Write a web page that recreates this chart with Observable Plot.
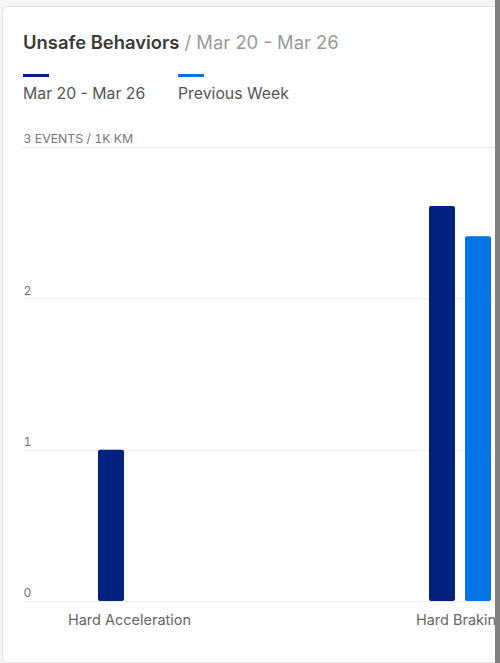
<!DOCTYPE html>
<html>
<head>
<meta charset="utf-8">
<script src="https://cdn.jsdelivr.net/npm/d3@7"></script>
<script src="https://cdn.jsdelivr.net/npm/@observablehq/plot@0.6"></script>
<style>
  html, body { margin: 0; padding: 0; width: 500px; height: 663px; overflow: hidden; background: #f5f5f5; font-family: Inter, "Noto Sans", sans-serif; }
  #card { position: absolute; left: 2px; top: 6px; width: 640px; height: 655px; background: #fff; border: 1px solid #e4e4e4; border-radius: 6px; }
  #title { position: absolute; left: 23px; top: 31px; font-size: 18.4px; line-height: 22px; white-space: nowrap; }
  #title .main { color: #3a3a3a; font-weight: 600; }
  #title .sub { color: #9a9a9a; font-weight: 400; }
  .leg { position: absolute; top: 74px; white-space: nowrap; }
  .leg .sw { width: 26px; height: 3px; }
  .leg .lab { margin-top: 7px; font-size: 15.8px; line-height: 19px; color: #555; }
  #chart { position: absolute; left: 0; top: 130px; width: 600px; }
  #chart svg { max-width: none !important; }
  #scroll { position: absolute; left: 495px; top: 0; width: 5px; height: 663px; background: #808080; }
</style>
</head>
<body>
<div id="card"></div>
<div id="title"><span class="main">Unsafe Behaviors</span><span class="sub"> / Mar 20 - Mar 26</span></div>
<div id="legend"></div>
<div id="chart"></div>
<div id="scroll"></div>
<script>
const categories = ["Hard Acceleration", "Hard Braking"];
const seriesNames = ["Mar 20 - Mar 26", "Previous Week"];
const currentWeek = [1.0, 2.61];
const previousWeek = [0, 2.41];
const yTicks = [0, 1, 2, 3];
const unitLabel = "EVENTS / 1K KM";
const colors = ["#03217e", "#0374e6"];

// legend
const legend = document.getElementById("legend");
const legX = [23, 178];
seriesNames.forEach((name, i) => {
  const d = document.createElement("div");
  d.className = "leg";
  d.style.left = legX[i] + "px";
  d.innerHTML = `<div class="sw" style="background:${colors[i]}"></div><div class="lab">${name}</div>`;
  legend.appendChild(d);
});

const table = categories.map((c, i) => ({category: c, current: currentWeek[i], previous: previousWeek[i]}));

const chart = Plot.plot({
  width: 565,
  height: 500,
  marginLeft: 23,
  marginRight: 0,
  marginTop: 17,
  marginBottom: 29,
  style: {fontFamily: "Inter, 'Noto Sans', sans-serif", overflow: "visible", background: "transparent", maxWidth: "none"},
  x: {domain: categories, paddingInner: 0.367, paddingOuter: 0, label: null},
  y: {domain: [0, 3], ticks: yTicks, label: null},
  marks: [
    Plot.gridY(yTicks, {stroke: "#ececec", strokeOpacity: 1}),
    Plot.barY(table, {x: "category", y: "current", fill: colors[0], insetLeft: 74, insetRight: 110, rx: 2}),
    Plot.barY(table, {x: "category", y: "previous", fill: colors[1], insetLeft: 110, insetRight: 74, rx: 2}),
    Plot.axisY(yTicks, {anchor: "left", tickSize: 0, tickPadding: 0, textAnchor: "start", dy: -8, fontSize: 12.3, fill: "#777",
      tickFormat: d => d === 3 ? `${d} ${unitLabel}` : `${d}`}),
    Plot.axisX({anchor: "bottom", tickSize: 0, tickPadding: 13, fontSize: 14.5, fill: "#666"})
  ]
});
document.getElementById("chart").appendChild(chart);
</script>
</body>
</html>
